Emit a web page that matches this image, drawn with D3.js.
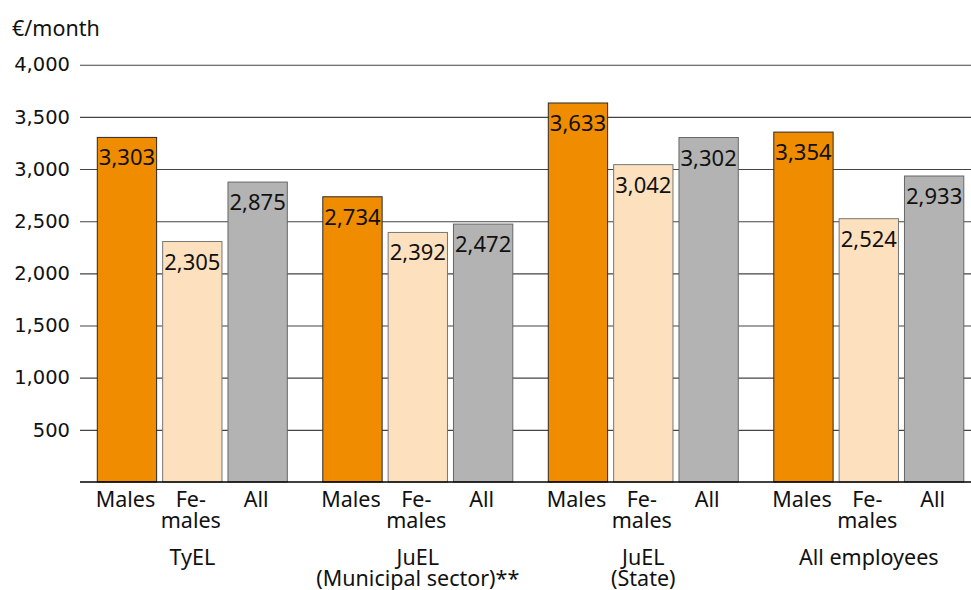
<!DOCTYPE html>
<html>
<head>
<meta charset="utf-8">
<script src="https://cdn.jsdelivr.net/npm/d3@7"></script>
<style>
    body { margin: 0; background: #fff; }
    svg { display: block; }
    text { font-family: "Noto Sans", sans-serif; fill: #111; }
</style>
</head>
<body>
<div class="canvas"></div>
<script>
// data
const groupLabels = [["TyEL"], ["JuEL", "(Municipal sector)**"], ["JuEL", "(State)"], ["All employees"]]
const seriesNames = ["Males", "Females", "All"]
const seriesLabels = [["Males"], ["Fe-", "males"], ["All"]]
const males = [3303, 2734, 3633, 3354]
const females = [2305, 2392, 3042, 2524]
const all = [2875, 2472, 3302, 2933]
const yTicks = [500, 1000, 1500, 2000, 2500, 3000, 3500, 4000]
const unitLabel = "€/month"

const dims = {
    width: 971,
    height: 590,
    left: 80,
    top: 64.7,
    bottom: 482
}

const colors = d3.scaleOrdinal()
    .domain(seriesNames)
    .range(["#f08c00", "#fde1bf", "#b3b3b3"])

const strokes = d3.scaleOrdinal()
    .domain(seriesNames)
    .range(["#2a2a2a", "#777", "#666"])

const svg = d3.select('.canvas')
    .append('svg')
    .attr('width', dims.width)
    .attr('height', dims.height)

const groupIds = groupLabels.map((d, i) => i)

const x0 = d3.scaleBand()
    .domain(groupIds)
    .range([97.3, 963.8])
    .paddingInner(0.1574)
    .paddingOuter(0)

const x1 = d3.scaleBand()
    .domain(seriesNames)
    .range([0, x0.bandwidth()])
    .paddingInner(0.092)
    .paddingOuter(0)

const y = d3.scaleLinear()
    .domain([0, 4000])
    .range([dims.bottom, dims.top])

// gridlines + tick labels
const yAxis = d3.axisLeft(y)
    .tickValues(yTicks)
    .tickSize(-(dims.width - dims.left))
    .tickPadding(10)
    .tickFormat(d3.format(','))

const axisG = svg.append('g')
    .attr('transform', `translate(${dims.left}, 0)`)
    .call(yAxis)

axisG.select('.domain').remove()
axisG.selectAll('.tick line')
    .attr('stroke', '#444')
    .attr('stroke-width', 1.1)
axisG.selectAll('.tick text')
    .style('font-family', '"DejaVu Sans", sans-serif')
    .style('font-size', '19.5px')
    .style('fill', '#111')

// unit label
svg.append('text')
    .attr('x', 12)
    .attr('y', 36)
    .attr('font-size', 21.5)
    .text(unitLabel)

// rows for the bars
const rows = groupIds.map(i => ({
    group: i,
    values: [
        { key: "Males", value: males[i] },
        { key: "Females", value: females[i] },
        { key: "All", value: all[i] }
    ]
}))

const groups = svg.selectAll('g.group')
    .data(rows)
    .enter()
    .append('g')
        .attr('class', 'group')
        .attr('transform', d => `translate(${x0(d.group)}, 0)`)

groups.selectAll('rect')
    .data(d => d.values)
    .enter()
    .append('rect')
        .attr('x', d => x1(d.key))
        .attr('y', d => y(d.value))
        .attr('width', x1.bandwidth())
        .attr('height', d => y(0) - y(d.value))
        .attr('fill', d => colors(d.key))
        .attr('stroke', d => strokes(d.key))
        .attr('stroke-width', 1)

// value labels inside the bar tops
groups.selectAll('text.value')
    .data(d => d.values)
    .enter()
    .append('text')
        .attr('class', 'value')
        .attr('x', d => x1(d.key) + x1.bandwidth() / 2)
        .attr('y', d => y(d.value) + 28)
        .attr('text-anchor', 'middle')
        .attr('font-size', 22)
        .text(d => d3.format(',')(d.value))

// series labels under each bar
groups.selectAll('text.series')
    .data(seriesNames)
    .enter()
    .append('text')
        .attr('class', 'series')
        .attr('text-anchor', 'middle')
        .attr('font-size', 21.5)
        .attr('transform', d => `translate(${x1(d) + x1.bandwidth() / 2 - 1.5}, 506.5)`)
        .selectAll('tspan')
        .data(d => seriesLabels[seriesNames.indexOf(d)])
        .enter()
        .append('tspan')
            .attr('x', 0)
            .attr('y', (d, i) => i * 21)
            .text(d => d)

// group labels
groups.append('text')
    .attr('class', 'grouplabel')
    .attr('text-anchor', 'middle')
    .attr('font-size', 21.5)
    .attr('transform', `translate(${x0.bandwidth() / 2}, 565)`)
    .selectAll('tspan')
    .data(d => groupLabels[d.group])
    .enter()
    .append('tspan')
        .attr('x', 0)
        .attr('y', (d, i) => i * 21)
        .text(d => d)

// zero line on top
svg.append('line')
    .attr('x1', dims.left)
    .attr('x2', dims.width)
    .attr('y1', y(0))
    .attr('y2', y(0))
    .attr('stroke', '#000')
    .attr('stroke-width', 1.5)
</script>
</body>
</html>
